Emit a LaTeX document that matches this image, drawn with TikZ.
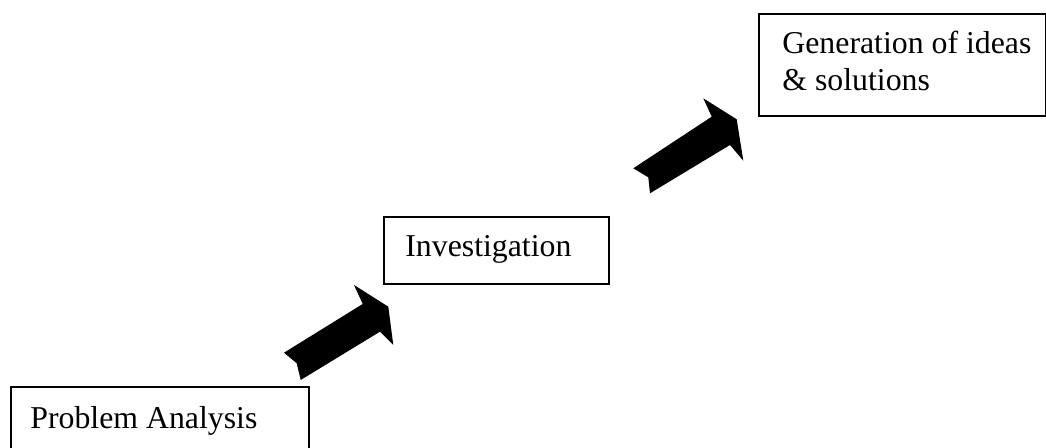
\documentclass[tikz,border=0pt]{standalone}
\usepackage{fontspec}
\setmainfont{Liberation Serif}
\usetikzlibrary{calc}
\tikzset{
  box/.style={draw=black, line width=0.85pt, inner sep=0pt, anchor=north west},
  lbl/.style={inner sep=0pt, anchor=base west, font=\fontsize{15.9}{18}\selectfont},
  blockarrow/.style={fill=black, draw=none}
}
\begin{document}
\begin{tikzpicture}[x=0.5pt,y=0.5pt]
\useasboundingbox (0,0) rectangle (1046,448);
\clip (0,0) rectangle (1046,448);
% boxes (y = 448 - pixel row)
\node[box, minimum width=149pt, minimum height=50pt] (pa) at (10,62) {};
\node[lbl] (patext) at ($(pa.north west)+(20,-43)$) {Problem Analysis};
\node[box, minimum width=112.5pt, minimum height=33.5pt] (inv) at (383,232) {};
\node[lbl] (invtext) at ($(inv.north west)+(22,-41)$) {Investigation};
\node[box, minimum width=143.5pt, minimum height=51pt] (gen) at (758,435) {};
\node[lbl] (gentext1) at ($(gen.north west)+(24,-41)$) {Generation of ideas};
\node[lbl] (gentext2) at ($(gen.north west)+(24,-78)$) {\& solutions};
% block arrow 1
\fill[blockarrow] (284,95.3) -- (296.7,84.7) -- (300.7,68) -- (380,116.3)
  -- (393.3,103) -- (388.3,141.3) -- (354,163) -- (362.7,144) -- cycle;
% block arrow 2
\fill[blockarrow] (633.3,279.7) -- (648.3,270.7) -- (650,254.7) -- (730,303)
  -- (743.3,287.3) -- (736.7,328.7) -- (703.3,349.7) -- (711.7,331.3) -- cycle;
\end{tikzpicture}
\end{document}
